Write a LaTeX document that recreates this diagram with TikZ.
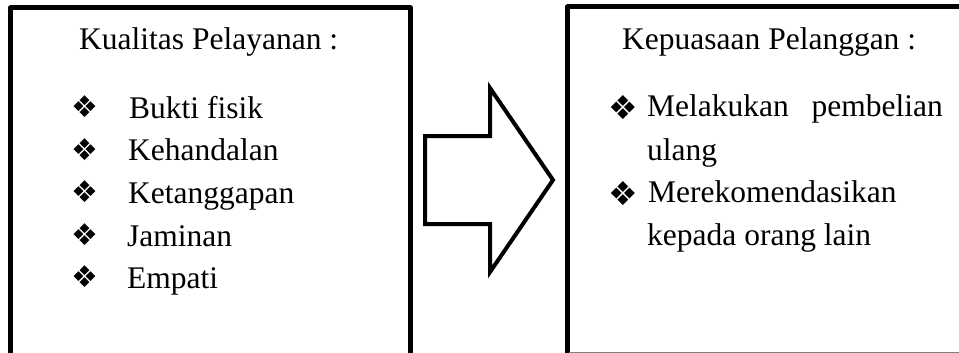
\documentclass[tikz,border=0pt]{standalone}
\usepackage{fontspec}
\setmainfont{Liberation Serif}
\newfontfamily\symfont{DejaVu Sans}
\begin{document}
\begin{tikzpicture}[x=1pt,y=-1pt,
  frame/.style={line width=5pt, line join=round},
  txt/.style={inner sep=0pt, anchor=base west, font=\fontsize{31.5}{36}\selectfont},
  bul/.style={inner sep=0pt, anchor=center, font=\symfont\fontsize{30}{34}\selectfont},
  bulr/.style={bul, font=\symfont\fontsize{33}{36}\selectfont},
  blockarrow/.style={line width=4pt, line join=miter}]
\useasboundingbox (0,0) rectangle (959,353);

% left box (open at the bottom)
\draw[frame] (10.5,362) -- (10.5,8) -- (410.5,8) -- (410.5,362);

% right box
\draw[frame] (567.5,356) -- (567.5,7) -- (966,7);
\draw[gray, line width=1.5pt] (569,352.5) -- (959,352.5);

% block arrow between the boxes
\coordinate (a1) at (425,136);
\coordinate (a2) at (490,136);
\coordinate (a3) at (490,88);
\coordinate (tip) at (553,180);
\coordinate (a5) at (490,272);
\coordinate (a6) at (490,224);
\coordinate (a7) at (425,224);
\draw[blockarrow] (a1) -- (a2) -- (a3) -- (tip) -- (a5) -- (a6) -- (a7) -- cycle;

% left box text
\node[txt] (ltitle) at (79,50) {Kualitas Pelayanan :};
\node[bul] (lb1) at (85,107) {❖};
\node[bul] (lb2) at (85,150) {❖};
\node[bul] (lb3) at (85,192) {❖};
\node[bul] (lb4) at (85,235) {❖};
\node[bul] (lb5) at (85,277) {❖};
\node[txt] (li1) at (129,118) {Bukti fisik};
\node[txt] (li2) at (128,160) {Kehandalan};
\node[txt] (li3) at (128,203) {Ketanggapan};
\node[txt] (li4) at (127,246) {Jaminan};
\node[txt] (li5) at (127,288) {Empati};

% right box text
\node[txt] (rtitle) at (622,50) {Kepuasaan Pelanggan :};
\node[bulr] (rb1) at (623.5,108) {❖};
\node[txt] (ri1a) at (647,116) {Melakukan};
\node[txt, anchor=base east] (ri1b) at (943,116) {pembelian};
\node[txt] (ri1c) at (647,160) {ulang};
\node[bulr] (rb2) at (623.5,194) {❖};
\node[txt] (ri2a) at (648,202) {Merekomendasikan};
\node[txt] (ri2b) at (647,245) {kepada orang lain};
\end{tikzpicture}
\end{document}
